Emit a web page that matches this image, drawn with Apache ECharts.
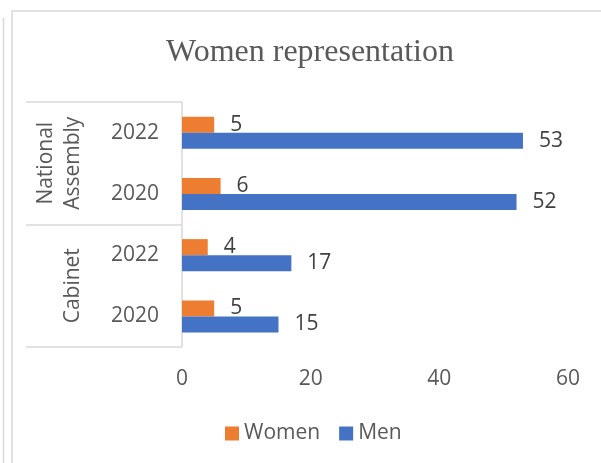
<!DOCTYPE html>
<html>
<head>
<meta charset="utf-8">
<script src="https://cdn.jsdelivr.net/npm/echarts@6/dist/echarts.min.js"></script>
<style>
  html, body { margin: 0; padding: 0; background: #fff; }
  #chart { width: 601px; height: 463px; }
</style>
</head>
<body>
<div id="chart"></div>
<script>
const years = ['2020', '2022', '2020', '2022'];
const groups = ['Cabinet', 'National\nAssembly'];
const women = [5, 4, 6, 5];
const men = [15, 17, 52, 53];
const xTicks = { min: 0, max: 60, interval: 20 };
const chartTitle = 'Women representation';

const chart = echarts.init(document.getElementById('chart'));
const labelFont = 'Open Sans';
const fs = 21;
chart.setOption({
  animation: false,
  backgroundColor: '#ffffff',
  title: {
    text: chartTitle,
    left: 166,
    top: 37,
    padding: 0,
    textStyle: { fontFamily: 'Liberation Serif', fontSize: 32, fontWeight: 'normal', color: '#595959' }
  },
  legend: {
    data: ['Women', 'Men'],
    left: 225,
    top: 423,
    padding: 0,
    icon: 'rect',
    itemWidth: 14,
    itemHeight: 14,
    itemGap: 19,
    textStyle: { fontFamily: labelFont, fontSize: fs, color: '#595959' }
  },
  grid: { left: 182, right: 33, top: 102, bottom: 116, containLabel: false },
  xAxis: {
    type: 'value',
    min: xTicks.min, max: xTicks.max, interval: xTicks.interval,
    splitLine: { show: false },
    axisLine: { show: false },
    axisTick: { show: false },
    axisLabel: { margin: 22, fontFamily: labelFont, fontSize: fs, color: '#595959' }
  },
  yAxis: [
    {
      type: 'category',
      data: years,
      position: 'left',
      axisLine: { show: true, lineStyle: { color: '#d9d9d9', width: 1.5 } },
      axisTick: { show: false },
      axisLabel: { interval: 0, margin: 23, fontFamily: labelFont, fontSize: fs, color: '#595959' }
    },
    {
      type: 'category',
      data: groups,
      position: 'left',
      axisLine: { show: false },
      axisTick: { show: true, length: 156, lineStyle: { color: '#d9d9d9', width: 1.5 } },
      axisLabel: { interval: 0, rotate: 90, margin: 95, lineHeight: 27, fontFamily: labelFont, fontSize: fs, color: '#595959' }
    }
  ],
  graphic: [
    { type: 'rect', shape: { x: 12, y: 11, width: 640, height: 500 }, style: { fill: 'none', stroke: '#d9d9d9', lineWidth: 1.5 }, silent: true },
    { type: 'line', shape: { x1: 3.5, y1: 18, x2: 3.5, y2: 470 }, style: { stroke: '#d9d9d9', lineWidth: 1.5 }, silent: true }
  ],
  series: [
    {
      name: 'Women', type: 'bar', yAxisIndex: 0, data: women,
      barWidth: 16, barGap: '0%',
      itemStyle: { color: '#ED7D31' },
      label: { show: true, position: 'right', distance: 16, fontFamily: labelFont, fontSize: fs, color: '#404040' }
    },
    {
      name: 'Men', type: 'bar', yAxisIndex: 0, data: men,
      barWidth: 16, barGap: '0%',
      itemStyle: { color: '#4472C4' },
      label: { show: true, position: 'right', distance: 16, fontFamily: labelFont, fontSize: fs, color: '#404040' }
    }
  ]
});
</script>
</body>
</html>
